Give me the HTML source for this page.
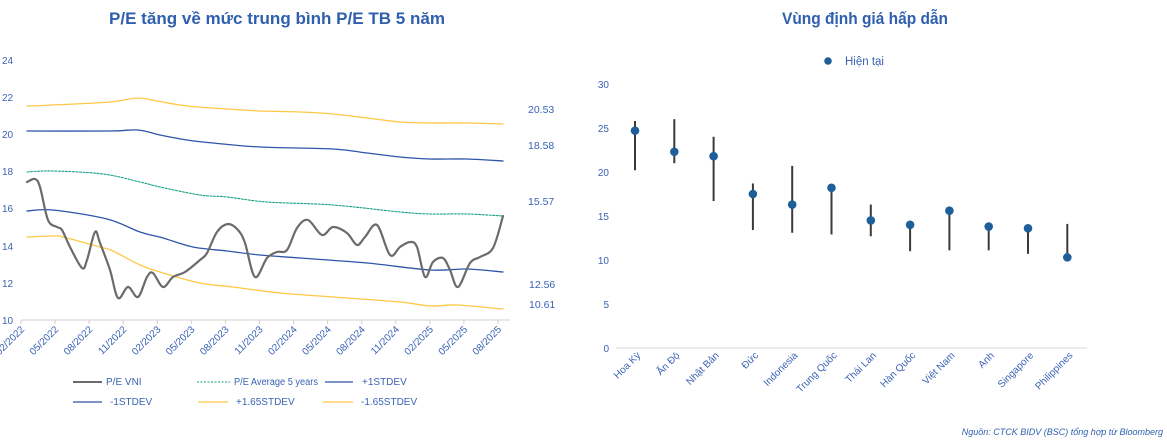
<!DOCTYPE html>
<html><head><meta charset="utf-8"><style>
body{margin:0;background:#fff;width:1167px;height:442px;overflow:hidden}
text{font-family:"Liberation Sans","DejaVu Sans",sans-serif}
</style></head><body>
<svg width="1167" height="442" viewBox="0 0 1167 442" xmlns="http://www.w3.org/2000/svg">
<text x="277" y="24" text-anchor="middle" font-size="17" font-weight="bold" fill="#2f5fae" textLength="336" lengthAdjust="spacingAndGlyphs">P/E tăng về mức trung bình P/E TB 5 năm</text>
<text x="865" y="24" text-anchor="middle" font-size="17" font-weight="bold" fill="#2f5fae" textLength="166" lengthAdjust="spacingAndGlyphs">Vùng định giá hấp dẫn</text>
<g font-size="10" fill="#3a62b5">
<text x="2" y="64">24</text><text x="2" y="101">22</text><text x="2" y="138">20</text><text x="2" y="175">18</text><text x="2" y="212">16</text><text x="2" y="250">14</text><text x="2" y="287">12</text><text x="2" y="324">10</text>
</g>
<line x1="21" y1="320" x2="510" y2="320" stroke="#d0d0d0" stroke-width="1"/>
<g stroke="#d0d0d0" stroke-width="1" id="ticks"></g>
<g font-size="10" fill="#3a62b5" id="xl"></g>
<g fill="none" stroke-linejoin="round" stroke-linecap="round" id="lines">
<polyline stroke="#ffc845" stroke-width="1.3" points="27,106 53,105 110,102 138,98 157,101 187,106 227,109 260,111 300,112 333,114 367,118 400,122 430,123 467,123 503,124"/>
<polyline stroke="#2d55a8" stroke-width="1.3" points="27,131 110,131 138,130 160,135 187,140 213,143 260,147 333,149 367,153 400,157 430,159 467,159 503,161"/>
<polyline stroke="#16a085" stroke-width="1.1" stroke-dasharray="2,1.5" points="27,172 53,171 103,174 140,182 160,187 200,195 227,197 267,202 333,205 400,212 430,214 467,214 503,216"/>
<polyline stroke="#2d55a8" stroke-width="1.3" points="27,211 53,210 107,219 140,232 163,238 193,247 227,251 260,255 300,258 367,263 430,270 467,269 503,272"/>
<polyline stroke="#ffc845" stroke-width="1.3" points="27,237 53,236 63,237 100,247 113,251 140,265 160,272 200,283 233,287 280,293 333,297 400,302 430,306 457,305 503,309"/>
<polyline stroke="#6b6b6b" stroke-width="2.2" points="27,182 35,179 40,187 48,220 57,227 62,230 70,247 82,268 87,260 95,232 100,243 110,270 118,298 128,287 138,297 147,277 153,273 163,287 173,277 185,272 200,260 207,253 217,232 228,224 238,230 245,243 255,277 267,258 277,252 287,250 297,228 308,220 322,235 333,227 347,233 357,245 365,237 377,225 390,255 400,247 410,242 417,247 425,277 433,262 443,258 450,270 458,287 470,263 480,257 493,248 503,216"/>
</g>
<g font-size="10.5" fill="#3a62b5">
<text x="528" y="113">20.53</text><text x="528" y="149">18.58</text><text x="528" y="205">15.57</text><text x="529" y="288">12.56</text><text x="529" y="308">10.61</text>
</g>
<g font-size="10" fill="#3a62b5">
<line x1="73" y1="382" x2="102" y2="382" stroke="#6b6b6b" stroke-width="2"/><text x="106" y="385">P/E VNI</text>
<line x1="197" y1="382" x2="230" y2="382" stroke="#16a085" stroke-width="1.1" stroke-dasharray="2,1.5"/><text x="234" y="385" textLength="84" lengthAdjust="spacingAndGlyphs">P/E Average 5 years</text>
<line x1="325" y1="382" x2="353" y2="382" stroke="#2d55a8" stroke-width="1.3"/><text x="362" y="385">+1STDEV</text>
<line x1="73" y1="402" x2="102" y2="402" stroke="#2d55a8" stroke-width="1.3"/><text x="110" y="405">-1STDEV</text>
<line x1="198" y1="402" x2="228" y2="402" stroke="#ffc845" stroke-width="1.3"/><text x="236" y="405">+1.65STDEV</text>
<line x1="323" y1="402" x2="353" y2="402" stroke="#ffc845" stroke-width="1.3"/><text x="361" y="405">-1.65STDEV</text>
</g>
<g font-size="10" fill="#3a62b5" text-anchor="end">
<text x="609" y="88">30</text><text x="609" y="132">25</text><text x="609" y="176">20</text><text x="609" y="220">15</text><text x="609" y="264">10</text><text x="609" y="308">5</text><text x="609" y="352">0</text>
</g>
<line x1="616" y1="348" x2="1087" y2="348" stroke="#d9d9d9" stroke-width="1"/>
<circle cx="828" cy="61" r="3.8" fill="#1f5f99"/>
<text x="845" y="65" font-size="11.5" fill="#3a62b5">Hiện tại</text>
<g id="dots"></g>
<g id="cl" font-size="10" fill="#3a62b5"></g>
<text x="1163" y="435" text-anchor="end" font-size="9" font-style="italic" fill="#2f5fae">Nguồn: CTCK BIDV (BSC) tổng hợp từ Bloomberg</text>
</svg>
<script>
var ns="http://www.w3.org/2000/svg";
function el(p,t,a,txt){var e=document.createElementNS(ns,t);for(var k in a)e.setAttribute(k,a[k]);if(txt)e.textContent=txt;document.getElementById(p).appendChild(e);}
var lb=["02/2022","05/2022","08/2022","11/2022","02/2023","05/2023","08/2023","11/2023","02/2024","05/2024","08/2024","11/2024","02/2025","05/2025","08/2025"];
for(var i=0;i<15;i++){var x=21+i*34.07;el("ticks","line",{x1:x,y1:320,x2:x,y2:324});
el("xl","text",{x:x+4,y:330,"text-anchor":"end",transform:"rotate(-45 "+(x+4)+" 330)"},lb[i]);}
// smooth polylines
Array.prototype.slice.call(document.querySelectorAll("#lines polyline")).forEach(function(pl){
var p=pl.getAttribute("points").trim().split(/\s+/).map(function(s){return s.split(",").map(Number);});
var d="M"+p[0][0]+","+p[0][1];
for(var i=0;i<p.length-1;i++){var p0=p[i-1]||p[i],p1=p[i],p2=p[i+1],p3=p[i+2]||p2;
d+=" C"+(p1[0]+(p2[0]-p0[0])/6)+","+(p1[1]+(p2[1]-p0[1])/6)+" "+(p2[0]-(p3[0]-p1[0])/6)+","+(p2[1]-(p3[1]-p1[1])/6)+" "+p2[0]+","+p2[1];}
var path=document.createElementNS(ns,"path");
["stroke","stroke-width","stroke-dasharray"].forEach(function(a){if(pl.getAttribute(a))path.setAttribute(a,pl.getAttribute(a));});
path.setAttribute("d",d);pl.parentNode.replaceChild(path,pl);});
var d=[["Hoa Kỳ",24.7,25.8,20.2],["Ấn Độ",22.3,26,21],["Nhật Bản",21.8,24,16.7],["Đức",17.5,18.7,13.4],["Indonesia",16.3,20.7,13.1],["Trung Quốc",18.2,18.2,12.9],["Thái Lan",14.5,16.3,12.7],["Hàn Quốc",14,14,11],["Việt Nam",15.6,15.6,11.1],["Anh",13.8,13.8,11.1],["Singapore",13.6,13.6,10.7],["Philippines",10.3,14.1,10.3]];
function Y(v){return 348-v*8.8;}
d.forEach(function(r,i){var x=635+i*39.3;
el("dots","line",{x1:x,y1:Y(r[2]),x2:x,y2:Y(r[3]),stroke:"#3a3a3a","stroke-width":2});
el("dots","circle",{cx:x,cy:Y(r[1]),r:4.3,fill:"#1f5f99"});
el("cl","text",{x:x+6,y:356,"text-anchor":"end",transform:"rotate(-45 "+(x+6)+" 356)"},r[0]);});
</script>
</body></html>
